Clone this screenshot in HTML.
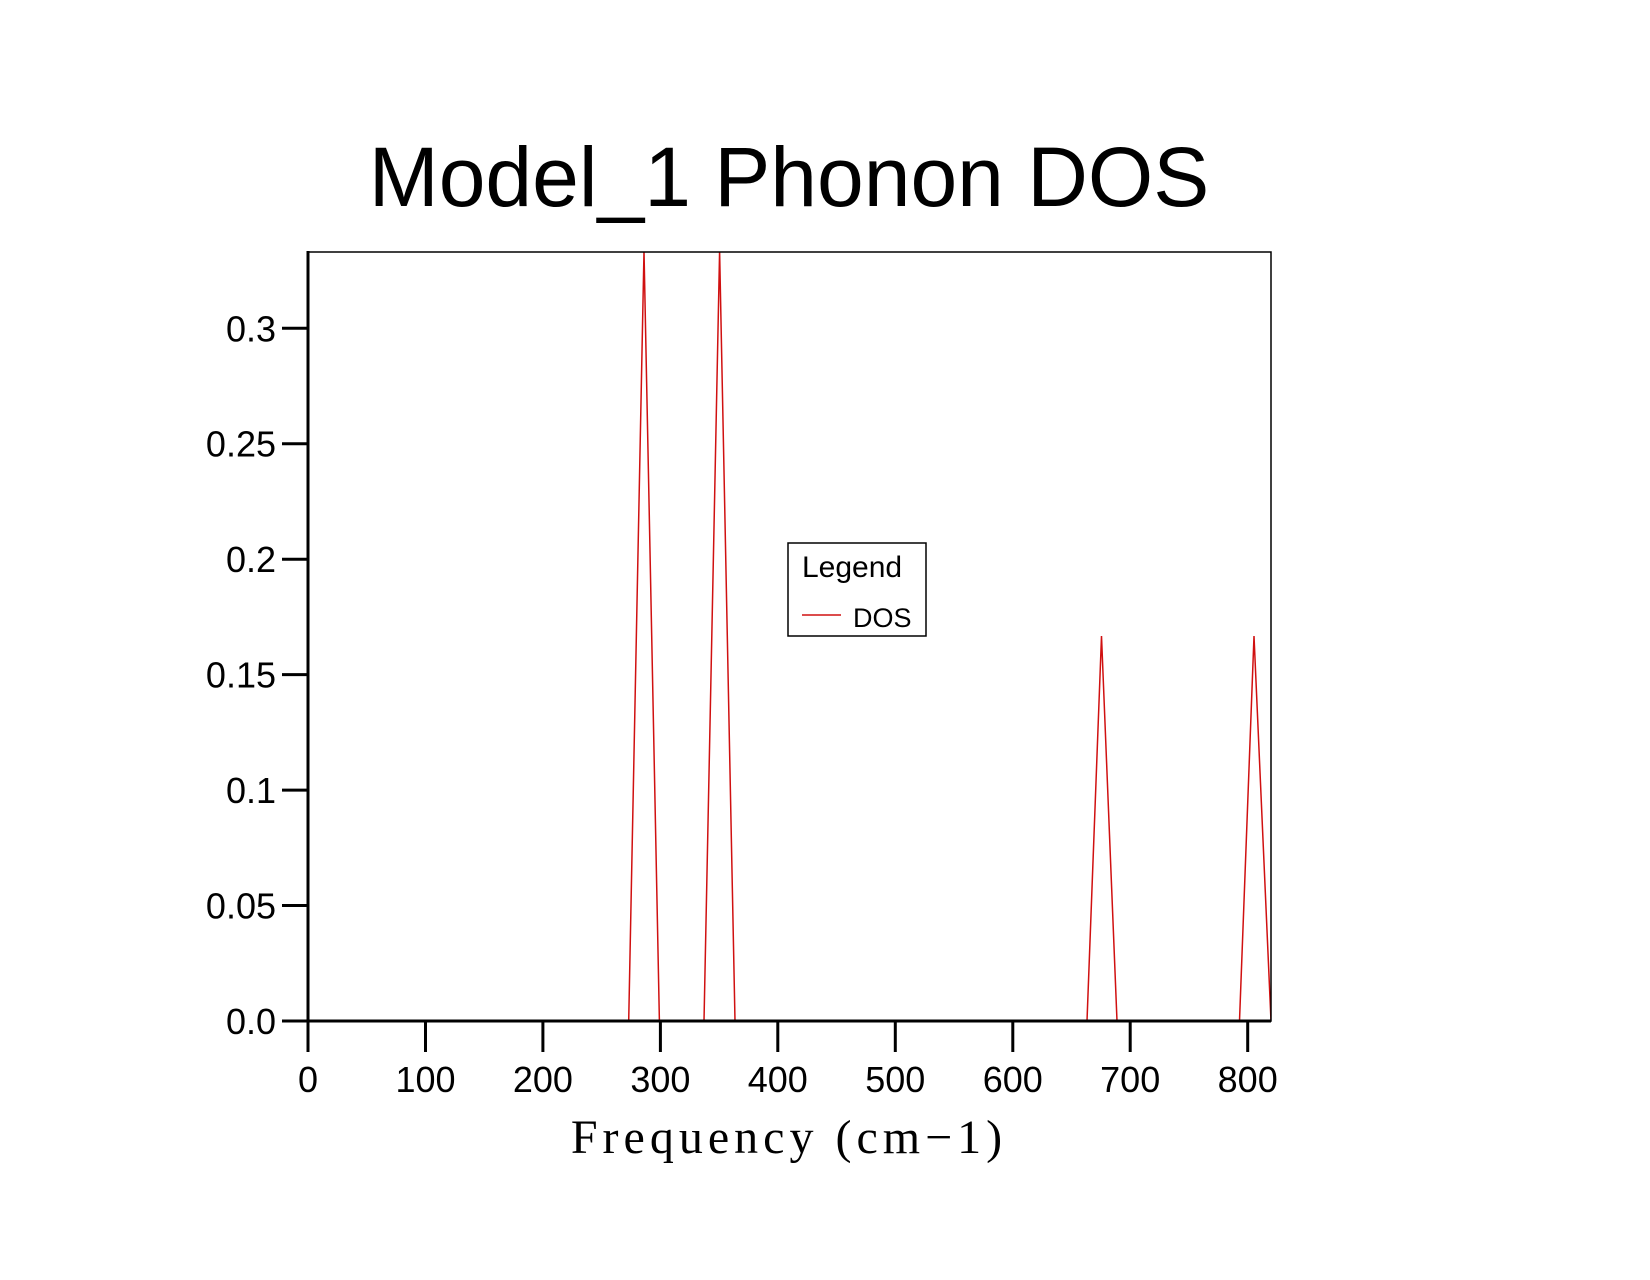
<!DOCTYPE html>
<html><head><meta charset="utf-8"><style>html,body{margin:0;padding:0;background:#fff}</style></head>
<body>
<svg width="1650" height="1275" viewBox="0 0 1650 1275" xmlns="http://www.w3.org/2000/svg">
<rect width="1650" height="1275" fill="#fff"/>
<text x="789" y="206" font-family="Liberation Sans, sans-serif" font-size="84" text-anchor="middle" fill="#000">Model_1 Phonon DOS</text>
<defs><clipPath id="c"><rect x="308" y="252" width="963" height="769"/></clipPath></defs>
<g clip-path="url(#c)" fill="none" stroke="#d01010" stroke-width="1.5">
<polyline points="628.7,1021 644,251 659.4,1021"/>
<polyline points="704,1021 719.6,251 735,1021"/>
<polyline points="1087,1021 1101.5,636 1117,1021"/>
<polyline points="1239.5,1021 1254,636 1271,1021"/>
</g>
<rect x="308" y="252" width="963" height="769" fill="none" stroke="#000" stroke-width="1.5"/>
<line x1="308" y1="251" x2="308" y2="1022" stroke="#000" stroke-width="3"/>
<line x1="307" y1="1021" x2="1271" y2="1021" stroke="#000" stroke-width="3"/>
<g stroke="#000" stroke-width="3">
<line x1="282" y1="1021" x2="308" y2="1021"/>
<line x1="282" y1="905.5" x2="308" y2="905.5"/>
<line x1="282" y1="790.1" x2="308" y2="790.1"/>
<line x1="282" y1="674.6" x2="308" y2="674.6"/>
<line x1="282" y1="559.2" x2="308" y2="559.2"/>
<line x1="282" y1="443.7" x2="308" y2="443.7"/>
<line x1="282" y1="328.3" x2="308" y2="328.3"/>
<line x1="308" y1="1021" x2="308" y2="1052"/>
<line x1="425.5" y1="1021" x2="425.5" y2="1052"/>
<line x1="542.9" y1="1021" x2="542.9" y2="1052"/>
<line x1="660.4" y1="1021" x2="660.4" y2="1052"/>
<line x1="777.8" y1="1021" x2="777.8" y2="1052"/>
<line x1="895.3" y1="1021" x2="895.3" y2="1052"/>
<line x1="1012.8" y1="1021" x2="1012.8" y2="1052"/>
<line x1="1130.2" y1="1021" x2="1130.2" y2="1052"/>
<line x1="1247.7" y1="1021" x2="1247.7" y2="1052"/>
</g>
<g font-family="Liberation Sans, sans-serif" font-size="36" fill="#000" text-anchor="end">
<text x="276" y="1034">0.0</text>
<text x="276" y="918.5">0.05</text>
<text x="276" y="803">0.1</text>
<text x="276" y="687.6">0.15</text>
<text x="276" y="572">0.2</text>
<text x="276" y="456.7">0.25</text>
<text x="276" y="341.5">0.3</text>
</g>
<g font-family="Liberation Sans, sans-serif" font-size="36" fill="#000" text-anchor="middle">
<text x="308" y="1092">0</text>
<text x="425.5" y="1092">100</text>
<text x="542.9" y="1092">200</text>
<text x="660.4" y="1092">300</text>
<text x="777.8" y="1092">400</text>
<text x="895.3" y="1092">500</text>
<text x="1012.8" y="1092">600</text>
<text x="1130.2" y="1092">700</text>
<text x="1247.7" y="1092">800</text>
</g>
<text x="789" y="1153" font-family="Liberation Serif, serif" font-size="48" text-anchor="middle" fill="#000" letter-spacing="5">Frequency (cm−1)</text>
<rect x="788" y="543" width="138" height="93" fill="#fff" stroke="#000" stroke-width="1.5"/>
<text x="802" y="577" font-family="Liberation Sans, sans-serif" font-size="30" fill="#000">Legend</text>
<line x1="802" y1="615" x2="841" y2="615" stroke="#d01010" stroke-width="1.5"/>
<text x="853" y="627" font-family="Liberation Sans, sans-serif" font-size="27" fill="#000">DOS</text>
</svg>
</body></html>
